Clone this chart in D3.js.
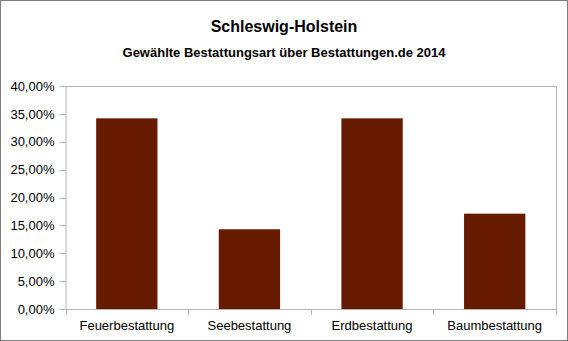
<!DOCTYPE html>
<html><head><meta charset="utf-8">
<script src="https://cdn.jsdelivr.net/npm/d3@7"></script>
<style>body{margin:0;background:#fff}svg{display:block}text{font-family:"Liberation Sans",Arial,sans-serif;fill:#000}</style>
</head><body>
<script>
const categories = ["Feuerbestattung","Seebestattung","Erdbestattung","Baumbestattung"];
const values = [0.342, 0.143, 0.342, 0.171];
const yTicks = [0,0.05,0.10,0.15,0.20,0.25,0.30,0.35,0.40];
const title = "Schleswig-Holstein";
const subtitle = "Gewählte Bestattungsart über Bestattungen.de 2014";

const W = 568, H = 341;
const m = {left:65.5, right:556, top:86, bottom:309};
const svg = d3.select("body").append("svg").attr("width",W).attr("height",H);
svg.append("rect").attr("x",0.5).attr("y",0.5).attr("width",W-1).attr("height",H-1)
  .attr("fill","#fff").attr("stroke","#7f7f7f");

const x = d3.scaleBand().domain(categories).range([m.left,m.right]).paddingInner(0.5).paddingOuter(0.25);
const xb = d3.scaleBand().domain(categories).range([m.left,m.right]);
const y = d3.scaleLinear().domain([0,0.4]).range([m.bottom,m.top]);
const fmt = v => d3.format(".2f")(v*100).replace(".",",")+"%";

// plot frame
svg.append("line").attr("x1",m.left).attr("x2",m.right).attr("y1",m.top+0.5).attr("y2",m.top+0.5).attr("stroke","#b3b3b3");
svg.append("line").attr("x1",m.right+0.5).attr("x2",m.right+0.5).attr("y1",m.top).attr("y2",m.bottom).attr("stroke","#b3b3b3");

svg.selectAll("rect.bar").data(values).join("rect").attr("class","bar")
  .attr("x",(d,i)=>x(categories[i])).attr("width",x.bandwidth())
  .attr("y",d=>y(d)).attr("height",d=>y(0)-y(d)).attr("fill","#661a00");

// y axis
const ya = svg.append("g");
ya.append("line").attr("x1",m.left+0.5).attr("x2",m.left+0.5).attr("y1",m.top).attr("y2",m.bottom).attr("stroke","#b3b3b3");
ya.selectAll("line.t").data(yTicks).join("line").attr("class","t")
  .attr("x1",m.left-6).attr("x2",m.left).attr("y1",d=>Math.round(y(d))+0.5).attr("y2",d=>Math.round(y(d))+0.5).attr("stroke","#b3b3b3");
ya.selectAll("text").data(yTicks).join("text")
  .attr("x",m.left-11).attr("y",d=>y(d)).attr("dy","0.36em").attr("text-anchor","end")
  .attr("font-size",13).text(fmt);

// x axis
const xa = svg.append("g");
xa.append("line").attr("x1",m.left).attr("x2",m.right).attr("y1",m.bottom+0.5).attr("y2",m.bottom+0.5).attr("stroke","#b3b3b3");
const bounds = categories.map(c=>xb(c)).concat([m.right]);
xa.selectAll("line.t").data(bounds).join("line").attr("class","t")
  .attr("x1",d=>Math.round(d)+0.5).attr("x2",d=>Math.round(d)+0.5).attr("y1",m.bottom).attr("y2",m.bottom+6).attr("stroke","#b3b3b3");
xa.selectAll("text").data(categories).join("text")
  .attr("x",d=>xb(d)+xb.bandwidth()/2).attr("y",329.5).attr("text-anchor","middle")
  .attr("font-size",13).text(d=>d);

svg.append("text").attr("x",W/2).attr("y",31.5).attr("text-anchor","middle")
  .attr("font-size",16).attr("font-weight","bold").text(title);
svg.append("text").attr("x",W/2).attr("y",56.5).attr("text-anchor","middle")
  .attr("font-size",13).attr("font-weight","bold").text(subtitle);
</script>
</body></html>
